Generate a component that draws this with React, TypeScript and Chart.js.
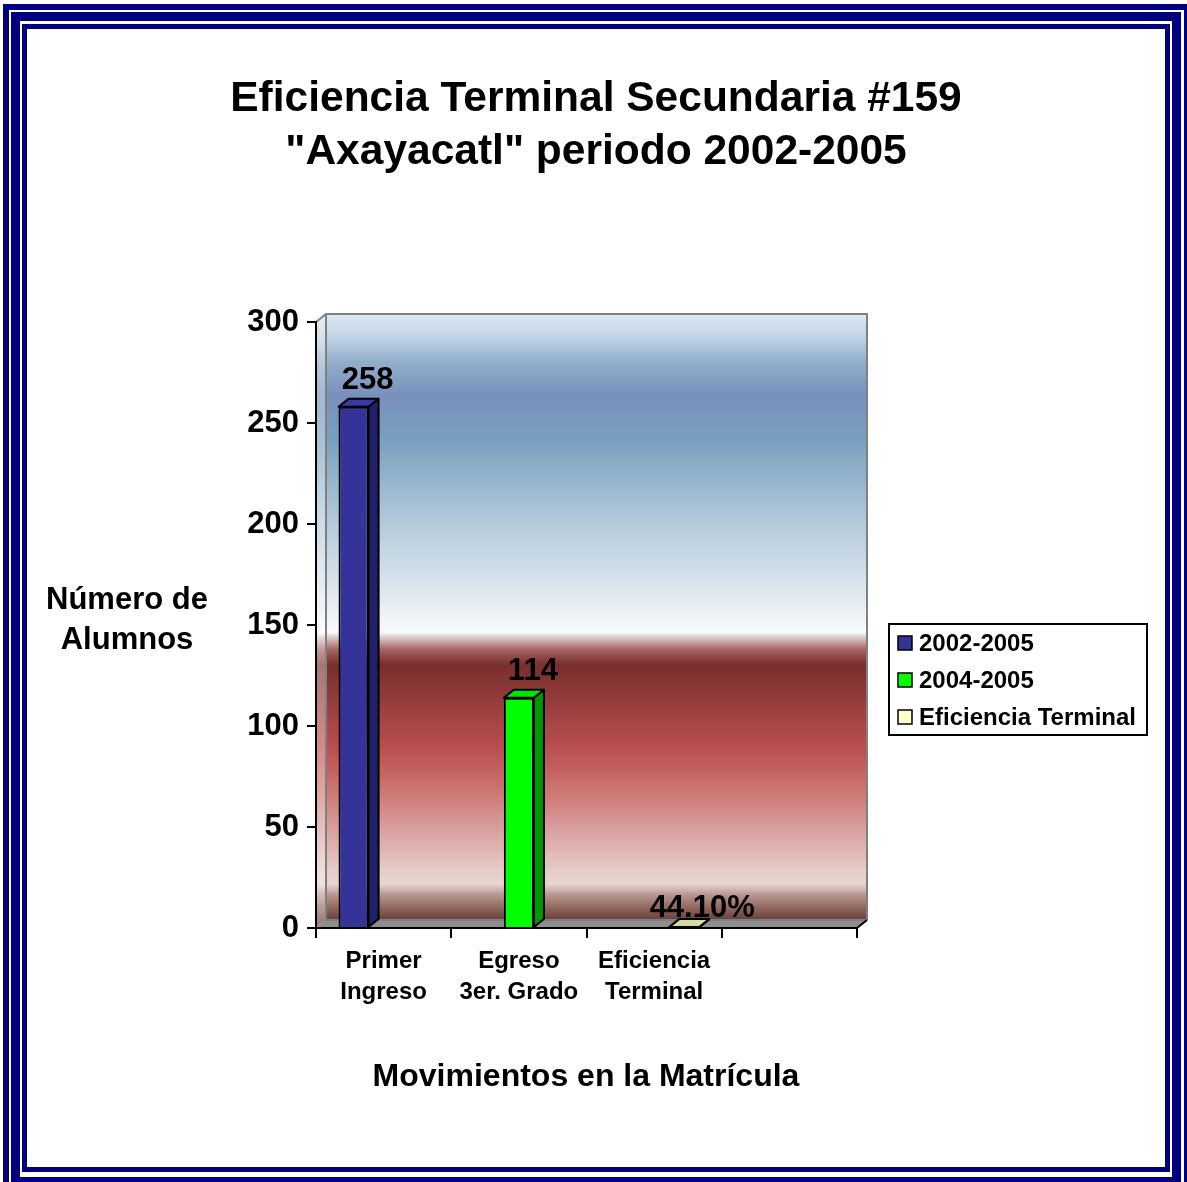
import React, { useEffect, useRef } from 'react';
import { Chart, registerables } from 'chart.js';

Chart.register(...registerables);

// ---------- data ----------
const categories: (string | string[])[] = [['Primer', 'Ingreso'], ['Egreso', '3er. Grado'], ['Eficiencia', 'Terminal'], ''];
const seriesNames = ['2002-2005', '2004-2005', 'Eficiencia Terminal'];
const serie2002_2005 = [258, null, null, null];
const serie2004_2005 = [null, 114, null, null];
const serieEficiencia = [null, null, 0.441, null];
const yMin = 0;
const yMax = 300;
const yStep = 50;
const titleLines = ['Eficiencia Terminal Secundaria #159', '"Axayacatl" periodo 2002-2005'];
const yTitleLines = ['Número de', 'Alumnos'];
const xTitle = 'Movimientos en la Matrícula';

// ---------- styles ----------
const FONT = '"Liberation Sans", Arial, Helvetica, sans-serif';
const FRONT = ['#333399', '#00ff00', '#ffffcc'];
const TOP = ['#3a3aa3', '#00e400', '#d8d8a6'];
const SIDE = ['#21216b', '#009a00', '#b5b585'];
const DX = 10;
const DY = 8;
const NAVY = '#000080';

const wallStops: [number, string][] = [
  [0, '#dfeaf3'],
  [0.043, '#bcd0e2'],
  [0.076, '#95b0cc'],
  [0.134, '#7890bb'],
  [0.208, '#78a0bf'],
  [0.307, '#a4bfd4'],
  [0.406, '#cbdae6'],
  [0.488, '#eaf0f4'],
  [0.525, '#f8fafc'],
  [0.532, '#e2d4d4'],
  [0.554, '#a46262'],
  [0.579, '#7a2e2e'],
  [0.637, '#943c3c'],
  [0.719, '#bc5050'],
  [0.785, '#cc7570'],
  [0.851, '#d8a0a0'],
  [0.917, '#e6cbc6'],
  [0.941, '#e8d5d0'],
  [0.958, '#b89890'],
  [0.983, '#8a6058'],
  [1, '#6a4040'],
];

const frameBands = [
  { l: 3, t: 4, r: 1190, b: 1195, w: 6 },
  { l: 11, t: 12, r: 1181, b: 1186, w: 9 },
  { l: 22, t: 24, r: 1170, b: 1172, w: 5 },
];

const decorPlugin = {
  id: 'decor',
  beforeDraw(chart: any) {
    const ctx: CanvasRenderingContext2D = chart.ctx;
    const W = chart.width;
    const H = chart.height;
    ctx.save();
    ctx.fillStyle = '#ffffff';
    ctx.fillRect(0, 0, W, H);
    ctx.fillStyle = NAVY;
    for (const b of frameBands) {
      ctx.fillRect(b.l, b.t, b.r - b.l, b.w);
      ctx.fillRect(b.l, b.b - b.w, b.r - b.l, b.w);
      ctx.fillRect(b.l, b.t, b.w, b.b - b.t);
      ctx.fillRect(b.r - b.w, b.t, b.w, b.b - b.t);
    }
    const ca = chart.chartArea;
    const g = ctx.createLinearGradient(0, ca.top - DY, 0, ca.bottom - DY);
    for (const [o, c] of wallStops) g.addColorStop(o, c);
    ctx.fillStyle = g;
    ctx.fillRect(ca.left + DX, ca.top - DY, ca.right - ca.left, ca.bottom - ca.top);
    ctx.beginPath();
    ctx.moveTo(ca.left, ca.top);
    ctx.lineTo(ca.left + DX, ca.top - DY);
    ctx.lineTo(ca.left + DX, ca.bottom - DY);
    ctx.lineTo(ca.left, ca.bottom);
    ctx.closePath();
    ctx.fillStyle = g;
    ctx.fill();
    ctx.fillStyle = 'rgba(255,255,255,0.35)';
    ctx.fill();
    ctx.beginPath();
    ctx.moveTo(ca.left, ca.bottom);
    ctx.lineTo(ca.left + DX, ca.bottom - DY);
    ctx.lineTo(ca.right + DX, ca.bottom - DY);
    ctx.lineTo(ca.right, ca.bottom);
    ctx.closePath();
    ctx.fillStyle = '#8e8e8e';
    ctx.fill();
    ctx.strokeStyle = '#808080';
    ctx.lineWidth = 2;
    ctx.beginPath();
    ctx.moveTo(ca.left, ca.top);
    ctx.lineTo(ca.left + DX, ca.top - DY);
    ctx.lineTo(ca.right + DX, ca.top - DY);
    ctx.lineTo(ca.right + DX, ca.bottom - DY);
    ctx.moveTo(ca.left + DX, ca.top - DY);
    ctx.lineTo(ca.left + DX, ca.bottom - DY);
    ctx.lineTo(ca.right + DX, ca.bottom - DY);
    ctx.stroke();
    ctx.restore();
  },
  afterDatasetsDraw(chart: any) {
    const ctx: CanvasRenderingContext2D = chart.ctx;
    const ca = chart.chartArea;
    ctx.save();
    ctx.lineJoin = 'round';
    chart.data.datasets.forEach((ds: any, di: number) => {
      const meta = chart.getDatasetMeta(di);
      meta.data.forEach((el: any, i: number) => {
        const v = ds.data[i];
        if (v === null || v === undefined) return;
        const { x, y, base, width } = el.getProps(['x', 'y', 'base', 'width'], true);
        const left = x - width / 2;
        const right = x + width / 2;
        ctx.strokeStyle = '#000';
        ctx.lineWidth = 2;
        ctx.beginPath();
        ctx.moveTo(right, y);
        ctx.lineTo(right + DX, y - DY);
        ctx.lineTo(right + DX, base - DY);
        ctx.lineTo(right, base);
        ctx.closePath();
        ctx.fillStyle = SIDE[di];
        ctx.fill();
        ctx.stroke();
        ctx.beginPath();
        ctx.moveTo(left, y);
        ctx.lineTo(left + DX, y - DY);
        ctx.lineTo(right + DX, y - DY);
        ctx.lineTo(right, y);
        ctx.closePath();
        ctx.fillStyle = TOP[di];
        ctx.fill();
        ctx.stroke();
        const txt = di === 2 ? (v * 100).toFixed(2) + '%' : String(v);
        const h = base - y;
        ctx.fillStyle = '#000';
        ctx.font = `bold 31px ${FONT}`;
        ctx.textAlign = 'center';
        ctx.textBaseline = 'alphabetic';
        ctx.fillText(txt, x + (h < 5 ? 18 : 14), y - (h < 5 ? 10 : 18));
      });
    });
    ctx.strokeStyle = '#000';
    ctx.lineWidth = 2;
    ctx.beginPath();
    ctx.moveTo(ca.right, ca.bottom);
    ctx.lineTo(ca.right + DX, ca.bottom - DY);
    ctx.stroke();
    ctx.restore();
  },
  afterDraw(chart: any) {
    const ctx: CanvasRenderingContext2D = chart.ctx;
    ctx.save();
    ctx.fillStyle = '#000';
    ctx.textAlign = 'center';
    ctx.textBaseline = 'middle';
    ctx.font = `bold 42.5px ${FONT}`;
    titleLines.forEach((t, i) => ctx.fillText(t, 596, 99 + i * 53));
    ctx.font = `bold 31px ${FONT}`;
    yTitleLines.forEach((t, i) => ctx.fillText(t, 127, 600 + i * 40));
    ctx.font = `bold 32px ${FONT}`;
    ctx.fillText(xTitle, 586, 1077);
    const lx = 889, ly = 624, lw = 258, lh = 111;
    ctx.fillStyle = '#fff';
    ctx.fillRect(lx, ly, lw, lh);
    ctx.strokeStyle = '#000';
    ctx.lineWidth = 2;
    ctx.strokeRect(lx, ly, lw, lh);
    ctx.textAlign = 'left';
    ctx.font = `bold 24px ${FONT}`;
    chart.data.datasets.forEach((ds: any, di: number) => {
      const cy = 643 + di * 37;
      ctx.fillStyle = ds.backgroundColor;
      ctx.fillRect(898, cy - 7, 14, 14);
      ctx.lineWidth = 1.5;
      ctx.strokeRect(898, cy - 7, 14, 14);
      ctx.fillStyle = '#000';
      ctx.fillText(ds.label, 919, cy + 1);
    });
    ctx.restore();
  },
};

export default function App() {
  const ref = useRef<HTMLCanvasElement>(null);
  useEffect(() => {
    if (!ref.current) return;
    Chart.defaults.font.family = FONT;
    const series = [serie2002_2005, serie2004_2005, serieEficiencia];
    const chart = new Chart(ref.current, {
      type: 'bar',
      data: {
        labels: categories,
        datasets: series.map((d, i) => ({
          label: seriesNames[i],
          data: d,
          backgroundColor: FRONT[i],
          borderColor: '#000',
          borderWidth: 2,
          categoryPercentage: 0.667,
          barPercentage: 1,
        })),
      },
      options: {
        responsive: false,
        animation: false,
        devicePixelRatio: 1,
        layout: { padding: { left: 200, right: 330, top: 322, bottom: 174 } },
        plugins: { legend: { display: false }, title: { display: false }, tooltip: { enabled: false } },
        scales: {
          x: {
            type: 'category',
            grid: { display: true, drawOnChartArea: false, drawTicks: true, tickLength: 10, color: '#000', lineWidth: 2, offset: true },
            border: { display: true, color: '#000', width: 2 },
            ticks: { color: '#000', font: { size: 24, weight: 'bold', lineHeight: 1.3 }, padding: 8, maxRotation: 0, autoSkip: false },
            afterFit: (s: any) => { s.height = 80; },
          },
          y: {
            min: yMin,
            max: yMax,
            grid: { display: true, drawOnChartArea: false, tickLength: 9, color: '#000', lineWidth: 2 },
            border: { display: true, color: '#000', width: 2 },
            ticks: { stepSize: yStep, color: '#000', font: { size: 31, weight: 'bold' }, padding: 8 },
            afterFit: (s: any) => { s.width = 116; },
          },
        },
      },
      plugins: [decorPlugin],
    } as any);
    return () => chart.destroy();
  }, []);
  return (
    <div style={{ position: 'absolute', left: 0, top: 0, width: 1187, height: 1182 }}>
      <canvas ref={ref} width={1187} height={1182} style={{ display: 'block', width: 1187, height: 1182 }} />
    </div>
  );
}
